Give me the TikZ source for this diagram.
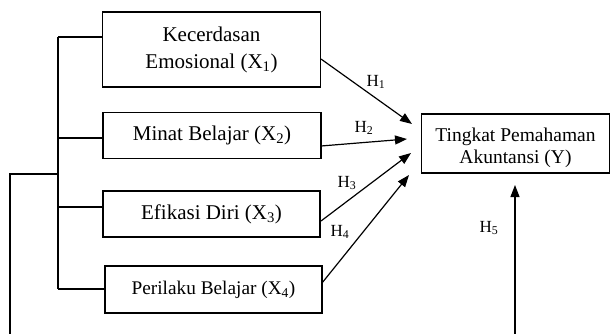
\documentclass[tikz,border=0pt]{standalone}
\usepackage{fontspec}
\setmainfont{Liberation Serif}
\usetikzlibrary{arrows.meta}
\begin{document}
\begin{tikzpicture}[x=1pt,y=-1pt,
  vbox/.style={draw,line width=1.3pt,inner sep=0pt,align=center,font=\fontsize{21}{27}\selectfont},
  link/.style={line width=1.3pt},
  harrow/.style={line width=1.2pt,-{Triangle[length=12pt,width=9pt]}},
  hlab/.style={font=\fontsize{17}{19}\selectfont,inner sep=0pt}]
\useasboundingbox (0,0) rectangle (611,333);
\node[vbox,minimum width=218pt,minimum height=75pt] (b1) at (211.5,49.5) {Kecerdasan\\Emosional (X\textsubscript{1})};
\node[vbox,minimum width=218pt,minimum height=46pt] (b2) at (212,135.5) {Minat Belajar (X\textsubscript{2})};
\node[vbox,minimum width=217pt,minimum height=46pt] (b3) at (211.5,214) {Efikasi Diri (X\textsubscript{3})};
\node[vbox,minimum width=217pt,minimum height=47pt,font=\fontsize{19.3}{22}\selectfont] (b4) at (213.5,289.5) {Perilaku Belajar (X\textsubscript{4})};
\node[vbox,minimum width=188pt,minimum height=59pt] (y) at (515.5,143.5) {};
\node[align=center,inner sep=0pt,font=\fontsize{19.5}{22}\selectfont] (yt) at (515.5,148) {Tingkat Pemahaman\\Akuntansi (Y)};
% bracket
\coordinate (t1) at (58,37);
\coordinate (t2) at (58,138);
\coordinate (t3) at (58,207);
\coordinate (t4) at (58,289);
\coordinate (tm) at (58,174);
\coordinate (lc) at (10,174);
\coordinate (le) at (10,334);
\draw[link] (t1) -- (t4);
\draw[link] (t1) -- (t1 -| b1.west);
\draw[link] (t2) -- (t2 -| b2.west);
\draw[link] (t3) -- (t3 -| b3.west);
\draw[link] (t4) -- (t4 -| b4.west);
\draw[link] (tm) -- (lc) -- (le);
% hypothesis arrows
\coordinate (s1) at (321,59);
\coordinate (e1) at (412,124);
\coordinate (s2) at (321,146);
\coordinate (e2) at (407,139);
\coordinate (s3) at (321,221);
\coordinate (e3) at (411,153);
\coordinate (s4) at (322,283);
\coordinate (e4) at (409,175);
\draw[harrow] (s1) -- (e1);
\draw[harrow] (s2) -- (e2);
\draw[harrow] (s3) -- (e3);
\draw[harrow] (s4) -- (e4);
\coordinate (s5) at (515,334);
\coordinate (e5) at (515,185);
\draw[harrow] (s5) -- (e5);
\node[hlab] (h1) at (376,82) {H\textsubscript{1}};
\node[hlab] (h2) at (364,128) {H\textsubscript{2}};
\node[hlab] (h3) at (347,183) {H\textsubscript{3}};
\node[hlab] (h4) at (340,232) {H\textsubscript{4}};
\node[hlab] (h5) at (489,228) {H\textsubscript{5}};
\end{tikzpicture}
\end{document}
